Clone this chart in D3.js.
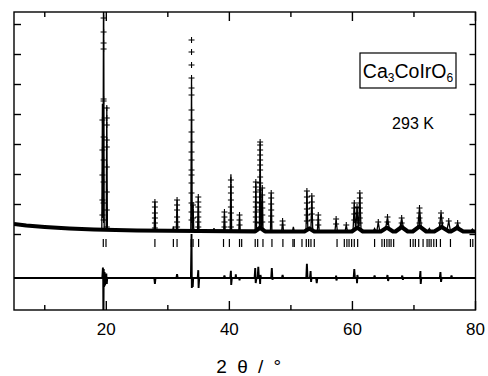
<!DOCTYPE html>
<html><head><meta charset="utf-8">
<script src="https://cdn.jsdelivr.net/npm/d3@7"></script>
<style>
body{margin:0;background:#fff}
svg{display:block}
text{font-family:"Liberation Sans",Arial,Helvetica,sans-serif;fill:#000}
</style>
</head><body>
<svg id="c" width="488" height="376"></svg>
<script>
// ---- data (2theta in degrees, intensity in counts) ----
const bgX = [5, 7, 10, 14, 18, 25, 35, 50, 65, 80];
const bgY = [350, 300, 250, 200, 167, 133, 117, 100, 100, 100];

const peakX = [19.37, 19.56, 20.08, 27.9, 30.9, 31.5, 33.85, 34.1, 34.95, 37.5, 39.2, 40.25, 41.65,
  44.3, 45.0, 45.35, 46.8, 48.65, 50.4, 52.6, 53.4, 54.45, 57.35, 59.0, 60.3, 60.75, 61.2,
  63.6, 64.2, 65.7, 68.0, 70.9, 72.5, 74.4, 75.65, 77.1, 79.5];
const peakH = [4200, 9500, 4100, 970, 150, 1030, 5100, 870, 1130, 100, 640, 1900, 540,
  1640, 2850, 1370, 1270, 340, 150, 1290, 1120, 540, 400, 200, 880, 680, 1200,
  100, 300, 350, 290, 600, 100, 460, 330, 160, 80];
const peakW = [0.1, 0.1, 0.1, 0.12, 0.12, 0.12, 0.12, 0.12, 0.12, 0.12, 0.12, 0.12, 0.12,
  0.12, 0.12, 0.12, 0.12, 0.15, 0.15, 0.15, 0.15, 0.15, 0.2, 0.2, 0.2, 0.2, 0.2,
  0.25, 0.25, 0.3, 0.3, 0.3, 0.3, 0.3, 0.3, 0.3, 0.3];

const humpX = [45.0, 53.0, 60.8, 65.6, 68.0, 70.9, 74.5, 77.0];
const humpH = [120, 100, 130, 130, 150, 170, 150, 120];
const humpW = [0.8, 0.8, 0.9, 1.0, 1.0, 1.1, 1.2, 1.0];

const obsPeakX = [19.56, 20.08, 19.37, 27.9, 31.5, 33.85, 34.1, 34.95, 39.2, 40.25, 41.65,
  44.3, 45.0, 45.35, 46.8, 48.65, 52.6, 53.4, 54.45, 57.35, 59.0, 60.3, 60.75, 61.2,
  64.2, 65.7, 68.0, 70.9, 74.4, 75.65, 77.1];
const obsPeakY = [
  [7217, 6750, 6383, 6183, 4517, 4450, 3250, 2483, 1750, 1050, 483],
  [4217, 3883, 3650, 3150, 2917, 2250, 1417, 817, 250],
  [3817, 2817, 1983, 1150, 650],
  [1083, 917, 717, 550, 383, 217],
  [1150, 983, 817, 583, 417, 250],
  [6483, 6083, 5650, 5217, 4883, 4650, 4150, 3817, 3417, 3083, 2750, 2483, 2150, 1983, 1717, 1383, 1050, 750, 483],
  [983, 750, 550],
  [1250, 1083, 917, 750, 583, 417, 250],
  [750, 583, 417, 250],
  [1817, 1583, 1383, 1150, 917, 717, 483, 250],
  [650, 483, 317],
  [1750, 1583, 1417, 1250, 1083, 917, 750, 583, 417],
  [3083, 2983, 2817, 2650, 2483, 2317, 2150, 1917, 1717, 1483, 1250, 1050, 817, 583, 383],
  [1550, 1317, 1083, 883, 650, 417],
  [1383, 1217, 1017, 817, 617, 417],
  [450, 317],
  [1450, 1250, 1050, 850, 650, 450],
  [1283, 1083, 883, 683, 483],
  [650, 483, 317],
  [517, 350],
  [317],
  [1050, 883, 683, 483],
  [917, 717, 483],
  [1383, 1217, 1050, 883, 717, 550, 383],
  [417],
  [583, 417],
  [550, 383],
  [883, 717, 550, 383],
  [717, 550, 383],
  [450],
  [383]
];

const reflX = [19.51, 19.95, 27.9, 30.9, 31.5, 33.8, 34.1, 35.0, 39.05, 40.0, 41.65, 42.0, 44.2, 44.6,
  45.46, 46.92, 48.7, 50.33, 50.55, 51.8, 52.5, 52.88, 53.26, 53.8, 57.5, 58.68, 59.1, 59.45, 59.87,
  60.3, 60.85, 63.6, 64.8, 65.2, 65.6, 65.96, 66.28, 66.7, 69.42, 69.86, 70.23, 70.77, 71.48, 72.13,
  72.46, 72.79, 73.22, 73.65, 74.3, 75.93, 79.18, 79.56];

const diffX = [5, 19.35, 19.45, 19.5, 19.53, 19.58, 19.65, 19.72, 19.8, 19.9, 20.0, 20.08, 20.15,
  27.8, 27.9, 28.0, 31.4, 31.5, 31.6, 33.75, 33.85, 33.9, 34.0, 34.05, 34.12,
  34.85, 34.95, 35.0, 35.1, 39.1, 39.2, 39.3, 40.15, 40.25, 40.3, 40.4, 41.0, 41.05, 41.1,
  41.6, 41.65, 41.7, 44.1, 44.2, 44.28, 44.4, 44.6, 44.7, 44.8, 44.95, 45.0, 45.05, 45.15,
  46.8, 46.9, 47.0, 47.1, 48.55, 48.65, 48.75, 52.5, 52.6, 52.7, 53.1, 53.2, 53.28, 53.35,
  54.1, 54.2, 54.3, 57.3, 57.35, 57.4, 57.5, 60.2, 60.3, 60.4, 60.7, 60.75, 60.8, 60.9,
  63.5, 63.6, 63.7, 65.6, 65.7, 65.8, 65.9, 68.0, 68.1, 68.2, 68.3, 70.95, 71.05, 71.1, 71.2,
  74.2, 74.3, 74.4, 74.5, 76.0, 76.1, 76.2, 80];
const diffY = [0, 0, 350, -100, -1800, 300, -300, 200, -250, 0, 150, -200, 0,
  0, -200, 0, 0, 130, 0, 0, 1470, -330, 0, -300, 0,
  0, 260, -330, 0, 0, 80, 0, 0, 240, -230, 0, 0, 120, 0,
  0, -80, 0, 0, 330, -170, 0, 0, 370, 0, 0, -200, 100, 0,
  0, 330, -60, 0, 0, 100, 0, 0, 470, 0, 0, 230, -130, 0,
  0, -170, 0, 0, 80, -80, 0, 0, 300, 0, 0, -170, 100, 0,
  0, 80, 0, 0, 100, -100, 0, 0, 80, -60, 0, 0, 230, -200, 0,
  0, 200, -130, 0, 0, 80, 0, 0];

const xTicks = [10, 20, 30, 40, 50, 60, 70, 80];
const xLabels = [20, 40, 60, 80];
const yTicks = [0, 1000, 2000, 3000, 4000, 5000, 6000, 7000];

// ---- layout ----
const L = 14, R = 475.5, T = 12, B = 310;
const svg = d3.select("#c");
const x = d3.scaleLinear().domain([5, 80]).range([L, R]);
const y = d3.scaleLinear().domain([-2517, 7417]).range([B, T]);
const diffOffset = -1450, reflTop = -150, reflBot = -417;

svg.append("defs").append("clipPath").attr("id", "clip")
  .append("rect").attr("x", L).attr("y", T).attr("width", R - L).attr("height", B - T);
const g = svg.append("g").attr("clip-path", "url(#clip)");

const bgF = d3.scaleLinear().domain(bgX).range(bgY);
function tri(t, cx, h, w) { const d = Math.abs(t - cx); return d < w ? h * (1 - d / w) : 0; }
function band(t) { let v = bgF(t); humpX.forEach((c, i) => v += tri(t, c, humpH[i], humpW[i])); return v; }
function calc(t) { let v = band(t); peakX.forEach((c, i) => v += tri(t, c, peakH[i], peakW[i])); return v; }

let keys = [...bgX];
humpX.forEach((c, i) => keys.push(c - humpW[i], c, c + humpW[i]));
const bandKeys = Array.from(new Set(keys)).filter(k => k >= 5 && k <= 80).sort((a, b) => a - b);
peakX.forEach((c, i) => keys.push(c - peakW[i], c, c + peakW[i]));
keys = Array.from(new Set(keys)).filter(k => k >= 5 && k <= 80).sort((a, b) => a - b);

const line = d3.line().x(d => x(d[0])).y(d => y(d[1]));

// observed background band (dense + markers)
g.append("path").datum(bandKeys.map(k => [k, band(k)]))
  .attr("d", line).attr("fill", "none").attr("stroke", "#000").attr("stroke-width", 4.2)
  .attr("stroke-linejoin", "round");

// calculated profile
g.append("path").datum(keys.map(k => [k, calc(k)]))
  .attr("d", line).attr("fill", "none").attr("stroke", "#000").attr("stroke-width", 1.3);

// observed + markers
const obsPts = [];
obsPeakX.forEach((c, i) => obsPeakY[i].forEach(v => obsPts.push([c, v])));
const cs = 3;
g.append("path")
  .attr("d", obsPts.map(p => {
    const px = x(p[0]), py = y(p[1]);
    return `M${px - cs},${py}H${px + cs}M${px},${py - cs}V${py + cs}`;
  }).join(""))
  .attr("stroke", "#000").attr("stroke-width", 1.1).attr("fill", "none");

// reflection ticks
g.selectAll(".refl").data(reflX).join("line")
  .attr("x1", d => x(d)).attr("x2", d => x(d))
  .attr("y1", y(reflTop)).attr("y2", y(reflBot))
  .attr("stroke", "#000").attr("stroke-width", 1.2);

// difference curve
g.append("path").datum(diffX.map((d, i) => [d, diffY[i] + diffOffset]))
  .attr("d", line).attr("fill", "none").attr("stroke", "#000").attr("stroke-width", 1.9);

// frame
svg.append("rect").attr("x", L).attr("y", T).attr("width", R - L).attr("height", B - T)
  .attr("fill", "none").attr("stroke", "#000").attr("stroke-width", 1.4);

// x ticks (top & bottom, inward)
xTicks.forEach(t => {
  const len = t % 20 === 0 ? 9 : 5;
  svg.append("line").attr("x1", x(t)).attr("x2", x(t)).attr("y1", B).attr("y2", B - len)
    .attr("stroke", "#000").attr("stroke-width", 1.4);
  svg.append("line").attr("x1", x(t)).attr("x2", x(t)).attr("y1", T).attr("y2", T + len)
    .attr("stroke", "#000").attr("stroke-width", 1.4);
});
// y ticks (left & right, inward)
yTicks.forEach(t => {
  svg.append("line").attr("x1", L).attr("x2", L + 7).attr("y1", y(t)).attr("y2", y(t))
    .attr("stroke", "#000").attr("stroke-width", 1.4);
  svg.append("line").attr("x1", R).attr("x2", R - 6).attr("y1", y(t)).attr("y2", y(t))
    .attr("stroke", "#000").attr("stroke-width", 1.4);
});

// x tick labels
xLabels.forEach(t => {
  svg.append("text").attr("x", x(t)).attr("y", 335).attr("text-anchor", "middle")
    .attr("font-size", 17).text(t);
});

// axis title
svg.append("text").attr("x", 250).attr("y", 373).attr("text-anchor", "middle")
  .attr("font-size", 19).attr("letter-spacing", 2.5).text("2 θ / °");

// compound label box
svg.append("rect").attr("x", 360).attr("y", 53).attr("width", 96).attr("height", 35)
  .attr("fill", "#fff").attr("stroke", "#000").attr("stroke-width", 1.2);
const lab = svg.append("text").attr("x", 408).attr("y", 77.5).attr("text-anchor", "middle")
  .attr("font-size", 19.5);
lab.append("tspan").text("Ca");
lab.append("tspan").attr("font-size", 12).attr("dy", 4).text("3");
lab.append("tspan").attr("dy", -4).text("CoIrO");
lab.append("tspan").attr("font-size", 12).attr("dy", 4).text("6");

svg.append("text").attr("x", 413).attr("y", 128.5).attr("text-anchor", "middle")
  .attr("font-size", 16).text("293 K");
</script>
</body></html>
